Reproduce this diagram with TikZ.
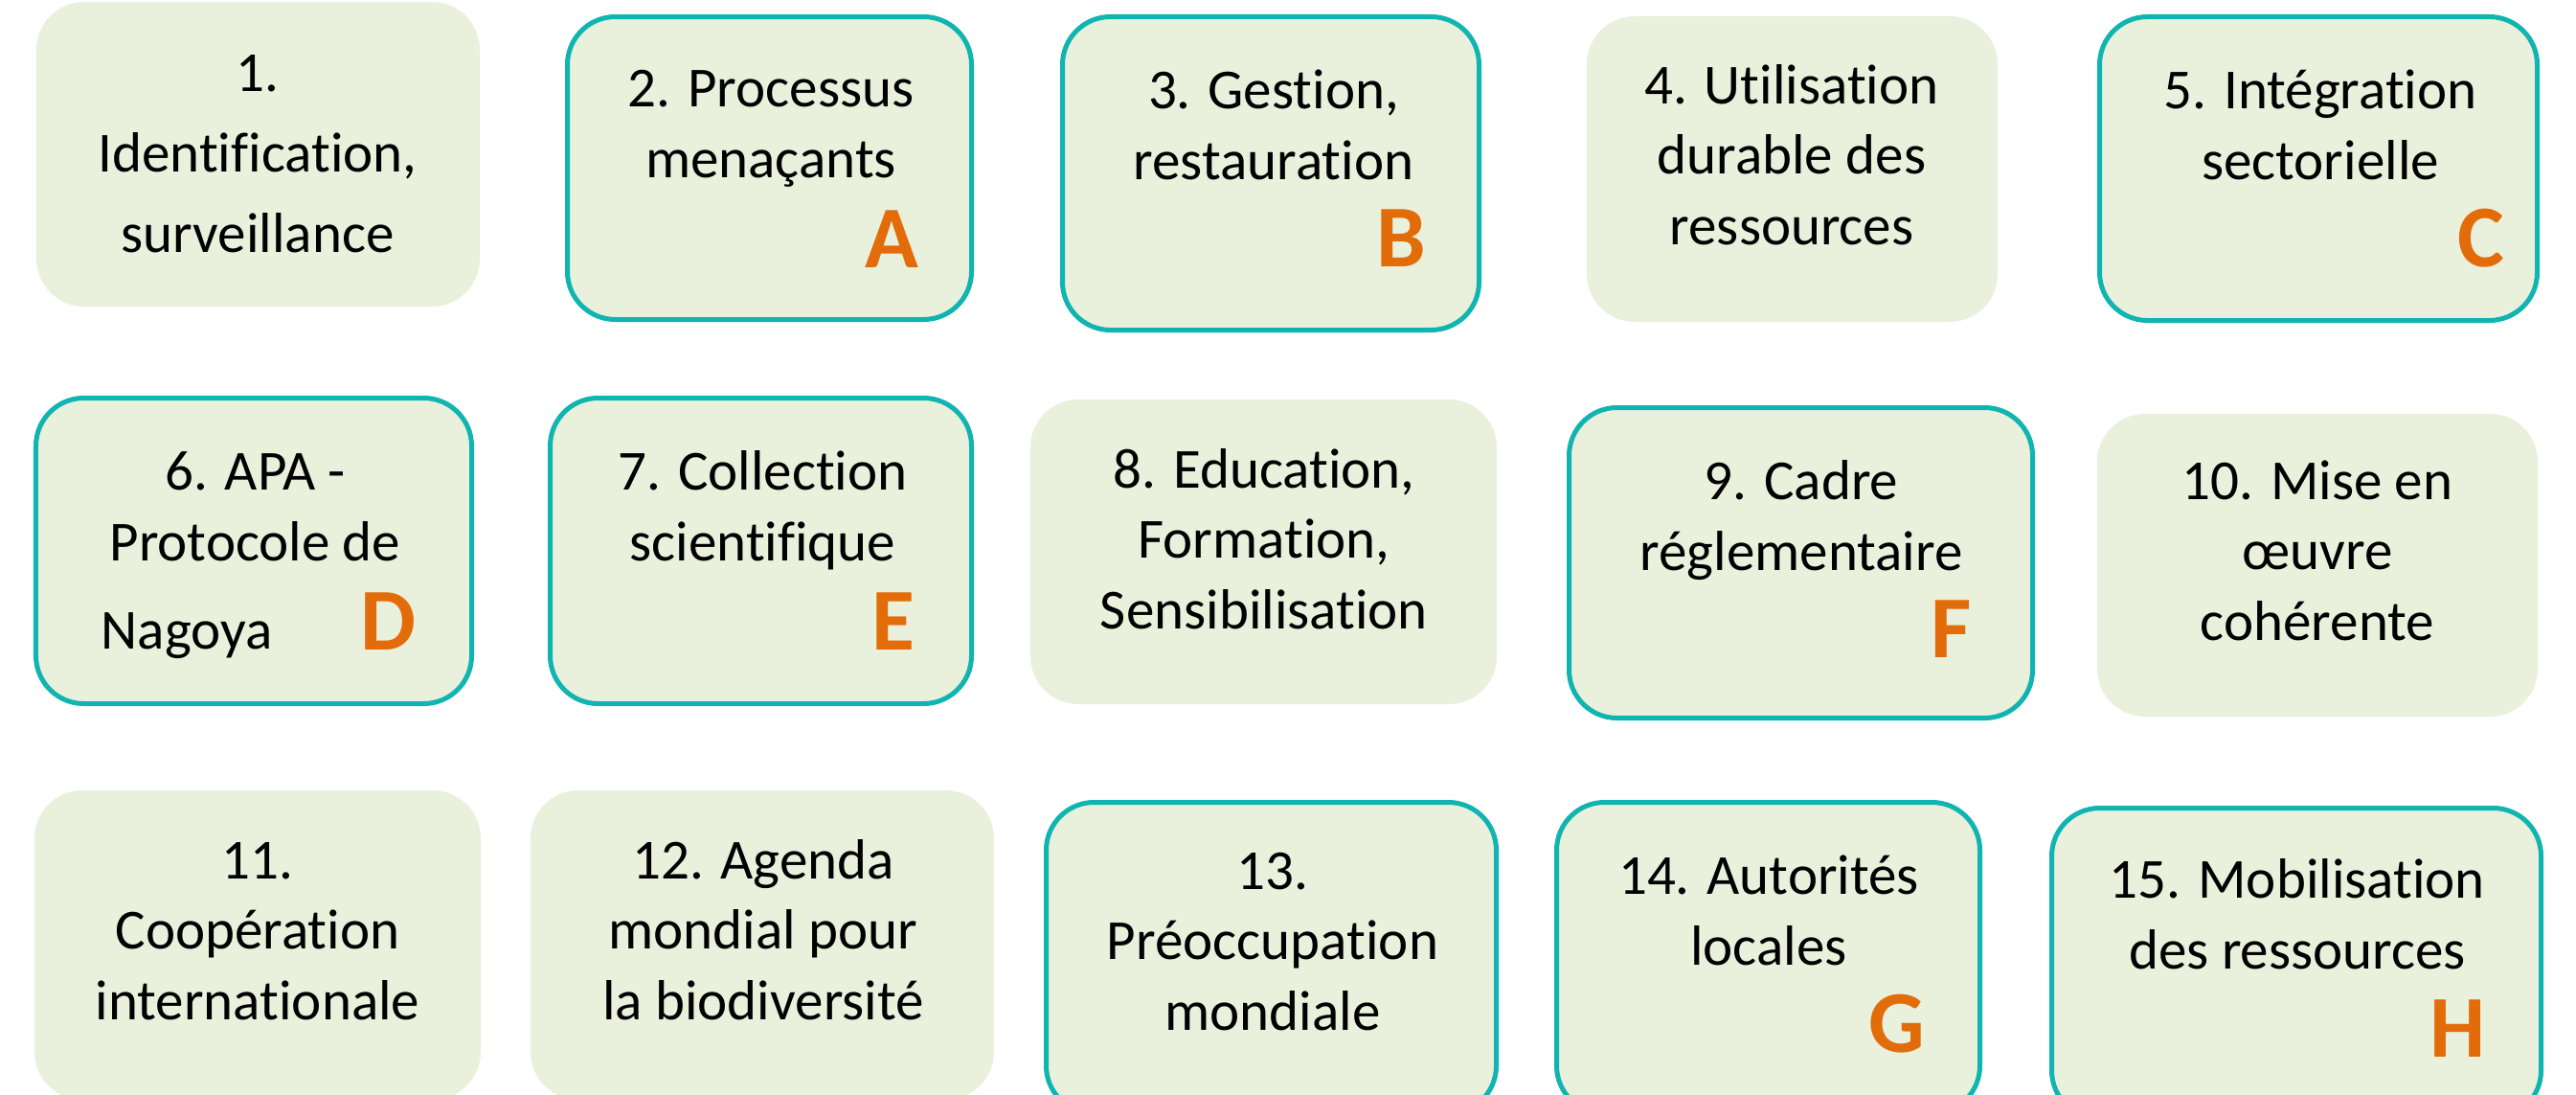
\documentclass[tikz,border=0pt]{standalone}
\usepackage{fontspec}
\setmainfont{Carlito}[Ligatures={NoCommon}]
\definecolor{boxfill}{HTML}{E9F0DC}
\definecolor{teal}{HTML}{10B4B0}
\definecolor{lettre}{HTML}{E36C0A}
\tikzset{
  plain/.style={rectangle, rounded corners=0.5cm, fill=boxfill, inner sep=0pt},
  framed/.style={plain, draw=teal, line width=0.05cm},
  txt/.style={anchor=base, align=center, inner sep=0pt, font=\fontsize{16.8}{20.8}\selectfont},
  txtwide/.style={txt, font=\fontsize{16.8}{23.9}\selectfont},
  lett/.style={anchor=base, inner sep=0pt, text=lettre, font=\fontsize{26.2}{30}\selectfont\bfseries}
}
\begin{document}
\begin{tikzpicture}
\useasboundingbox (0,0) rectangle (26.9,-11.43);
\clip (0,0) rectangle (26.9,-11.43);
\fill[white] (0,0) rectangle (26.9,-11.43);
% row 1
\node[plain,  minimum width=4.63cm, minimum height=3.18cm] (b1) at (2.695,-1.61) {};
\node[framed, minimum width=4.22cm, minimum height=3.16cm] (b2) at (8.035,-1.755) {};
\node[framed, minimum width=4.35cm, minimum height=3.27cm] (b3) at (13.27,-1.81) {};
\node[plain,  minimum width=4.29cm, minimum height=3.19cm] (b4) at (18.715,-1.765) {};
\node[framed, minimum width=4.57cm, minimum height=3.17cm] (b5) at (24.21,-1.76) {};
% row 2
\node[framed, minimum width=4.55cm, minimum height=3.19cm] (b6) at (2.65,-5.75) {};
\node[framed, minimum width=4.40cm, minimum height=3.19cm] (b7) at (7.945,-5.75) {};
\node[plain,  minimum width=4.87cm, minimum height=3.18cm] (b8) at (13.195,-5.76) {};
\node[framed, minimum width=4.84cm, minimum height=3.24cm] (b9) at (18.805,-5.875) {};
\node[plain,  minimum width=4.60cm, minimum height=3.16cm] (b10) at (24.20,-5.90) {};
% row 3
\node[plain,  minimum width=4.66cm, minimum height=3.23cm] (b11) at (2.69,-9.865) {};
\node[plain,  minimum width=4.84cm, minimum height=3.23cm] (b12) at (7.96,-9.865) {};
\node[framed, minimum width=4.70cm, minimum height=3.25cm] (b13) at (13.275,-10.00) {};
\node[framed, minimum width=4.42cm, minimum height=3.25cm] (b14) at (18.465,-10.00) {};
\node[framed, minimum width=5.11cm, minimum height=3.24cm] (b15) at (23.98,-10.055) {};
% texts (anchor = baseline of the last line)
\node[txtwide] (t1) at (2.69,-2.63) {1.\\Identification,\\surveillance};
\node[txt] (t2) at (8.05,-1.85) {2. Processus\\menaçants};
\node[txt] (t3) at (13.30,-1.87) {3. Gestion,\\restauration};
\node[txt] (t4) at (18.71,-2.55) {4. Utilisation\\durable des\\ressources};
\node[txt] (t5) at (24.23,-1.87) {5. Intégration\\sectorielle};
\node[txt] (t6) at (2.665,-5.85) {6. APA -\\Protocole de};
\node[txt, anchor=base west] (t6b) at (1.05,-6.77) {Nagoya};
\node[txt] (t7) at (7.965,-5.85) {7. Collection\\scientifique};
\node[txt] (t8) at (13.20,-6.56) {8. Education,\\Formation,\\Sensibilisation};
\node[txt] (t9) at (18.81,-5.95) {9. Cadre\\réglementaire};
\node[txt] (t10) at (24.20,-6.68) {10. Mise en\\œuvre\\cohérente};
\node[txt] (t11) at (2.69,-10.64) {11.\\Coopération\\internationale};
\node[txt] (t12) at (7.97,-10.64) {12. Agenda\\mondial pour\\la biodiversité};
\node[txt] (t13) at (13.29,-10.75) {13.\\Préoccupation\\mondiale};
\node[txt] (t14) at (18.47,-10.07) {14. Autorités\\locales};
\node[txt] (t15) at (23.99,-10.11) {15. Mobilisation\\des ressources};
% letters
\node[lett] (lA) at (9.31,-2.79) {A};
\node[lett] (lB) at (14.63,-2.78) {B};
\node[lett] (lC) at (25.91,-2.78) {C};
\node[lett] (lD) at (4.06,-6.78) {D};
\node[lett] (lE) at (9.33,-6.78) {E};
\node[lett] (lF) at (20.38,-6.86) {F};
\node[lett] (lG) at (19.81,-10.98) {G};
\node[lett] (lH) at (25.67,-11.03) {H};
\end{tikzpicture}
\end{document}
